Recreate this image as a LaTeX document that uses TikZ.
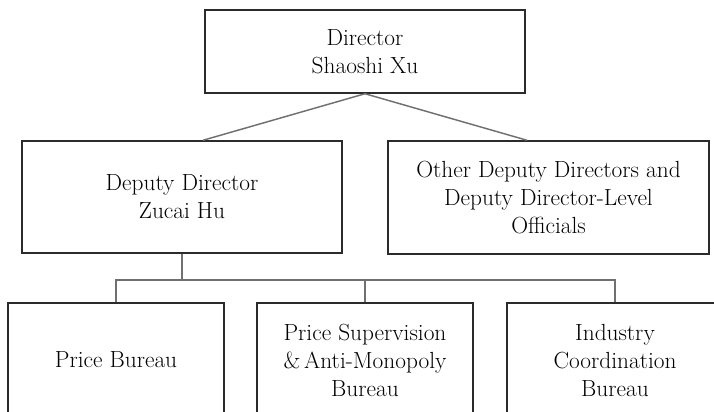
\documentclass[tikz,border=0pt]{standalone}
\usepackage{xcolor}
\usepackage{tikz}
\usetikzlibrary{positioning,calc}

\definecolor{boxline}{HTML}{2B2B2B}
\definecolor{linkline}{HTML}{707070}

\tikzset{
  orgbox/.style={draw=boxline, line width=1.1pt, rectangle, align=center,
    minimum width=240pt, font=\fontsize{17.5}{21}\selectfont, inner sep=0pt},
  unitbox/.style={orgbox, minimum width=162pt, minimum height=85.5pt},
  link/.style={draw=linkline, line width=1.1pt}
}

\begin{document}
\begin{tikzpicture}[x=0.75pt, y=-0.75pt]
        \useasboundingbox (0,0) rectangle (714,411);
        \clip (0,0) rectangle (714,411);

        % top level
        \node[orgbox, minimum height=62.25pt] (director) at (365,51.5) {Director\\Shaoshi Xu};

        % deputies
        \node[orgbox, minimum height=84pt] (deputy) at (182,197) {Deputy Director\\Zucai Hu};
        \node[orgbox, minimum width=240.75pt, minimum height=84.75pt] (others) at (548.5,197.5)
            {Other Deputy Directors and\\Deputy Director-Level\\Officials};

        % bureaus
        \node[unitbox] (price) at (116,360) {Price Bureau};
        \node[unitbox] (supervision) at (365,360) {Price Supervision\\\&\,Anti-Monopoly\\Bureau};
        \node[unitbox] (industry) at (615,360) {Industry\\Coordination\\Bureau};

        \draw[link] ($(deputy.north)+(21,0)$) -- (director.south) -- ($(others.north)+(-21.5,0)$);

        \coordinate (bus) at (182,280);
        \draw[link] (deputy.south) -- (bus);
        \draw[link] (price.north) |- (bus) -| (industry.north);
        \draw[link] (supervision.north) -- (supervision.north |- bus);
    \end{tikzpicture}
\end{document}
